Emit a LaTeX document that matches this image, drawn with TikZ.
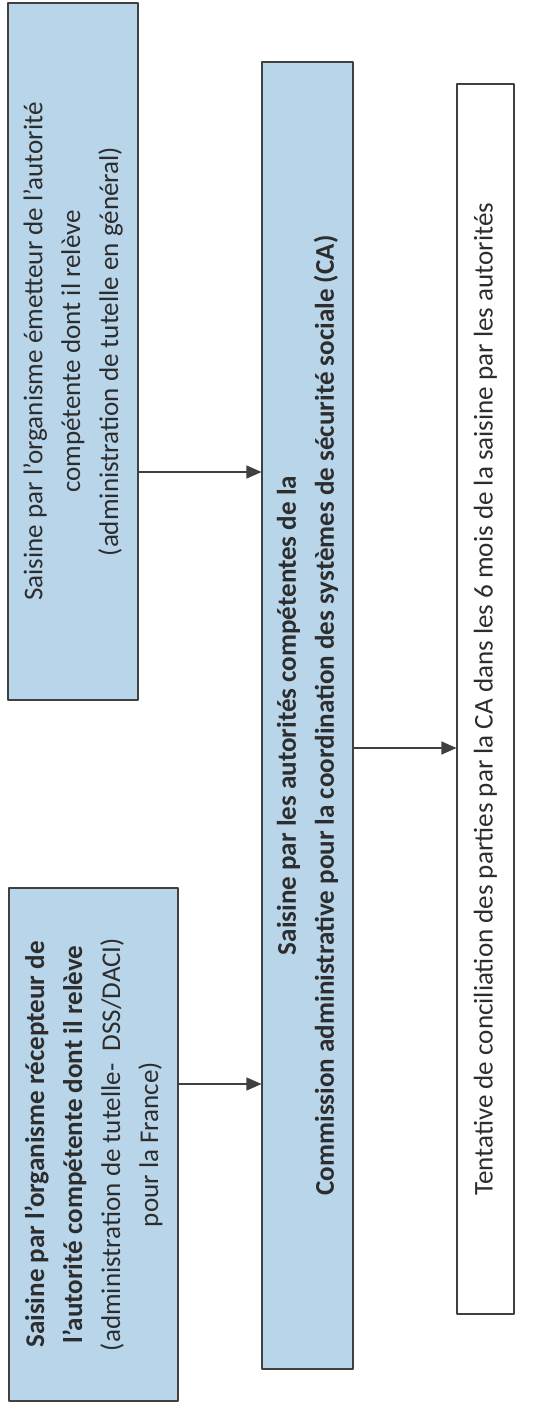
\documentclass[tikz,border=0pt]{standalone}
\usepackage{fontspec}
\setmainfont{Carlito}
\usetikzlibrary{arrows.meta}
\definecolor{boxblue}{RGB}{184,213,234}
\definecolor{linegray}{RGB}{64,64,64}
\definecolor{textgray}{RGB}{45,45,45}
\tikzset{
	box/.style={draw=linegray, line width=0.6pt, fill=boxblue, rotate=90, align=center, inner sep=0pt, text=textgray, font=\fontsize{15.4}{21.6}\selectfont},
	whitebox/.style={box, fill=white},
	arr/.style={draw=linegray, line width=0.6pt, -{Triangle[length=0.3cm,width=0.26cm]}}
}
\begin{document}
\begin{tikzpicture}[line join=round]
	\def\yac{-9.44} \def\ybc{-21.68} \def\ycd{-14.96} % hauteurs des fleches
	\useasboundingbox (0,0) rectangle (11.14,-28.28);
	% boites
	\node[box, minimum width=13.94cm, minimum height=2.6cm] (emet) at (1.46,-7.03)
		{Saisine par l’organisme émetteur de l’autorité\\ compétente dont il relève\\ (administration de tutelle en général)};
	\node[box, minimum width=10.26cm, minimum height=3.38cm] (recep) at (1.87,-22.89)
		{\textbf{Saisine par l’organisme récepteur de}\\ \textbf{l’autorité compétente dont il relève}\\ (administration de tutelle-~ DSS/DACI)\\ pour la France)};
	\node[box, minimum width=26.14cm, minimum height=1.82cm] (ca) at (6.15,-14.31)
		{\textbf{Saisine par les autorités compétentes de la}\\ \textbf{Commission administrative pour la coordination des systèmes de sécurité sociale (CA)}};
	\node[whitebox, minimum width=24.6cm, minimum height=1.14cm] (concil) at (9.71,-13.98)
		{Tentative de conciliation des parties par la CA dans les 6 mois de la saisine par les autorités};
	% fleches
	\draw[arr] (emet.south |- 0,\yac) -- (ca.north |- 0,\yac);
	\draw[arr] (recep.south |- 0,\ybc) -- (ca.north |- 0,\ybc);
	\draw[arr] (ca.south |- 0,\ycd) -- (concil.north |- 0,\ycd);
\end{tikzpicture}
\end{document}
